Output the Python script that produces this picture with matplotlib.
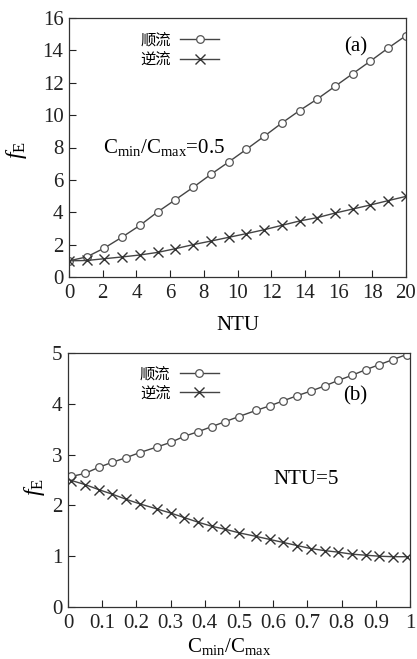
import matplotlib
matplotlib.use("Agg")
import matplotlib.pyplot as plt

plt.rcParams['font.family'] = ['Liberation Serif', 'Noto Sans CJK SC', 'DejaVu Sans']
plt.rcParams['mathtext.fontset'] = 'custom'
plt.rcParams['mathtext.rm'] = 'Liberation Serif'
plt.rcParams['mathtext.it'] = 'Liberation Serif:italic'

# Panel (a): Cmin/Cmax = 0.5
ntu = [0, 1.05, 2.1, 3.16, 4.21, 5.26, 6.32, 7.37, 8.42, 9.47,
       10.53, 11.58, 12.63, 13.68, 14.74, 15.79, 16.84, 17.89, 18.95, 20]
fe_parallel_a = [1.0, 1.24, 1.79, 2.47, 3.19, 4.02, 4.78, 5.54, 6.34, 7.1,
                 7.89, 8.69, 9.51, 10.28, 11.0, 11.78, 12.56, 13.34, 14.15, 14.91]
fe_counter_a = [1.0, 1.02, 1.13, 1.24, 1.36, 1.52, 1.75, 2.0, 2.22, 2.45,
                2.68, 2.92, 3.19, 3.46, 3.67, 3.95, 4.2, 4.45, 4.72, 4.98]

# Panel (b): NTU = 5
cr = [0.01, 0.05, 0.09, 0.13, 0.17, 0.21, 0.26, 0.30, 0.34, 0.38, 0.42, 0.46, 0.50,
      0.55, 0.59, 0.63, 0.67, 0.71, 0.75, 0.79, 0.83, 0.87, 0.91, 0.95, 0.99]
fe_parallel_b = [2.57, 2.63, 2.75, 2.85, 2.94, 3.04, 3.15, 3.24, 3.36, 3.45, 3.55, 3.65, 3.75,
                 3.87, 3.96, 4.06, 4.16, 4.25, 4.35, 4.46, 4.56, 4.67, 4.77, 4.87, 4.97]
fe_counter_b = [2.49, 2.41, 2.31, 2.22, 2.12, 2.03, 1.93, 1.85, 1.76, 1.67, 1.59, 1.53, 1.46,
                1.39, 1.33, 1.27, 1.21, 1.15, 1.11, 1.08, 1.04, 1.02, 1.0, 0.99, 0.99]

labels = ['顺流', '逆流']
xticks_a = list(range(0, 21, 2))
yticks_a = list(range(0, 17, 2))
xticks_b = [0, 0.1, 0.2, 0.3, 0.4, 0.5, 0.6, 0.7, 0.8, 0.9, 1]
xticklabels_b = ['0', '0.1', '0.2', '0.3', '0.4', '0.5', '0.6', '0.7', '0.8', '0.9', '1']
yticks_b = [0, 1, 2, 3, 4, 5]

W, H = 417, 659
fig = plt.figure(figsize=(W / 100, H / 100), dpi=100)

lc = '#444444'
fs = 15

def rect(l, t, r, b):
    return [l / W, 1 - b / H, (r - l) / W, (b - t) / H]

ax1 = fig.add_axes(rect(69, 18, 406, 277))
ax2 = fig.add_axes(rect(68, 353, 410, 607))

def style(ax):
    ax.tick_params(direction='in', top=False, right=False, length=5, width=0.8,
                   labelsize=fs, colors='#222222')
    ax.tick_params(axis='x', pad=5)
    ax.tick_params(axis='y', pad=4)
    for s in ax.spines.values():
        s.set_linewidth(0.9)
        s.set_color('#333333')

# Panel a
ax1.plot(ntu, fe_parallel_a, color=lc, lw=1.0, marker='o', ms=5.5,
         mfc='white', mec='#555555', mew=0.9, label=labels[0])
ax1.plot(ntu, fe_counter_a, color=lc, lw=1.0, marker='x', ms=6.5,
         mec='#333333', mew=1.0, label=labels[1])
ax1.set_xlim(0, 20)
ax1.set_ylim(0, 16)
ax1.set_xticks(xticks_a)
ax1.set_yticks(yticks_a)
style(ax1)
ax1.set_xlabel('NTU', fontsize=fs)
ax1.xaxis.set_label_coords(0.5, -0.15)
ax1.set_ylabel(r'$f_{\mathrm{E}}$', fontsize=17)
ax1.yaxis.set_label_coords(-0.118, 0.49)
ax1.legend(loc='upper left', bbox_to_anchor=(0.17, 1.0), frameon=False,
           markerfirst=False, handlelength=2.6,
           labelspacing=0.15, handletextpad=0.6,
           prop={'family': ['Noto Sans CJK SC'], 'size': 11})
ax1.text(0.85, 0.89, '(a)', transform=ax1.transAxes, fontsize=fs, ha='center', va='center')
ax1.text(0.1, 0.5, r'C$_{\mathrm{min}}$/C$_{\mathrm{max}}$=0.5', transform=ax1.transAxes,
         fontsize=fs, ha='left', va='center')

# Panel b
ax2.plot(cr, fe_parallel_b, color=lc, lw=1.0, marker='o', ms=5.5,
         mfc='white', mec='#555555', mew=0.9, label=labels[0])
ax2.plot(cr, fe_counter_b, color=lc, lw=1.0, marker='x', ms=6.5,
         mec='#333333', mew=1.0, label=labels[1])
ax2.set_xlim(0, 1)
ax2.set_ylim(0, 5)
ax2.set_xticks(xticks_b)
ax2.set_xticklabels(xticklabels_b)
ax2.set_yticks(yticks_b)
style(ax2)
ax2.set_xlabel(r'C$_{\mathrm{min}}$/C$_{\mathrm{max}}$', fontsize=fs)
ax2.xaxis.set_label_coords(0.47, -0.115)
ax2.set_ylabel(r'$f_{\mathrm{E}}$', fontsize=17)
ax2.yaxis.set_label_coords(-0.06, 0.47)
ax2.legend(loc='upper left', bbox_to_anchor=(0.17, 1.005), frameon=False,
           markerfirst=False, handlelength=2.6,
           labelspacing=0.15, handletextpad=0.6,
           prop={'family': ['Noto Sans CJK SC'], 'size': 11})
ax2.text(0.84, 0.83, '(b)', transform=ax2.transAxes, fontsize=fs, ha='center', va='center')
ax2.text(0.6, 0.5, 'NTU=5', transform=ax2.transAxes, fontsize=fs, ha='left', va='center')

fig.savefig('out.png', dpi=100)
